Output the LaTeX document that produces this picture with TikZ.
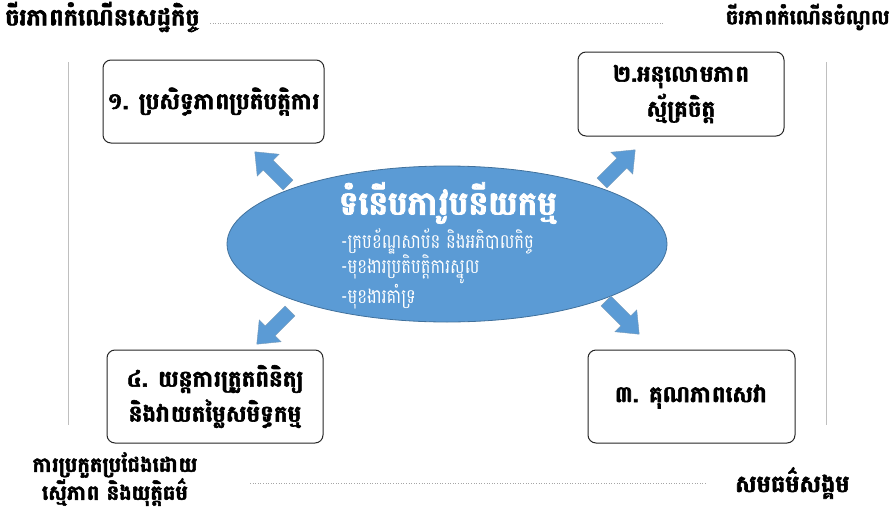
\documentclass[tikz,border=0pt]{standalone}
\usepackage{fontspec}
\usetikzlibrary{shapes.geometric}
\newfontfamily\kh[Script=Khmer,FakeStretch=0.82]{Battambang}
\newfontfamily\khb[Script=Khmer,FakeBold=2.5]{Battambang Bold}
\definecolor{blu}{HTML}{5B9BD5}
\definecolor{bluedge}{HTML}{41719C}
\tikzset{
  x=1pt,y=-1pt,
  boxstyle/.style={draw=black!85,line width=1pt,rounded corners=8pt,fill=white},
  lbl/.style={font=\khb\fontsize{23}{35}\selectfont,align=center,inner sep=0pt},
  outerlbl/.style={lbl,font=\khb\fontsize{24}{30}\selectfont},
  blkarrow/.style={fill=blu,draw=bluedge!70,line width=0.4pt},
  guide/.style={draw=black!35,line width=0.6pt,dotted},
  vline/.style={draw=black!25,line width=0.6pt}
}
\newcommand{\blockarrow}[3]{% tail name, angle, name
  \begin{scope}[shift={(#1)},rotate=#2]
    \draw[blkarrow] (0pt,-7pt) -- (28pt,-7pt) -- (28pt,-15.5pt) -- (47pt,0pt)
      -- (28pt,15.5pt) -- (28pt,7pt) -- (0pt,7pt) -- cycle;
    \coordinate (#3) at (47pt,0pt);
  \end{scope}}
\begin{document}
\begin{tikzpicture}
\useasboundingbox (0,0) rectangle (895,517);
% top and bottom labels
\node[outerlbl,anchor=west] (tl) at (5,17) {ចីរភាពកំណើនសេដ្ឋកិច្ច};
\node[outerlbl,font=\khb\fontsize{21}{30}\selectfont,anchor=east] (tr) at (890,17) {ចីរភាពកំណើនចំណូល};
\coordinate (tla) at (210,23);
\coordinate (tra) at (663,23);
\draw[guide] (tla) -- (tra);
\node[outerlbl,font=\khb\fontsize{21}{28}\selectfont] (bl) at (115,479) {ការប្រកួតប្រជែងដោយ\\ស្មើភាព និងយុត្តិធម៌};
\node[outerlbl,anchor=west] (br) at (735,483) {សមធម៌សង្គម};
\coordinate (bla) at (250,483);
\coordinate (bra) at (707,483);
\draw[guide] (bla) -- (bra);
% vertical lines
\coordinate (l1) at (68,62); \coordinate (l2) at (68,425);
\coordinate (r1) at (826,62); \coordinate (r2) at (826,425);
\draw[vline] (l1) -- (l2);
\draw[vline] (r1) -- (r2);
% boxes
\node[boxstyle,lbl,draw,minimum width=221pt,minimum height=83pt] (b1) at (213.5,101.5) {១. ប្រសិទ្ធភាពប្រតិបត្តិការ};
\node[boxstyle,lbl,draw,minimum width=206pt,minimum height=84pt] (b2) at (681,94) {២.អនុលោមភាព\\ស្ម័គ្រចិត្ត};
\node[boxstyle,lbl,draw,minimum width=216pt,minimum height=93pt] (b4) at (215,396.5) {៤. យន្តការត្រួតពិនិត្យ\\និងវាយតម្លៃសមិទ្ធកម្ម};
\node[boxstyle,lbl,draw,minimum width=207pt,minimum height=93pt] (b3) at (691.5,396.5) {៣. គុណភាពសេវា};
% ellipse
\node[ellipse,fill=blu,draw=bluedge,line width=0.8pt,minimum width=440pt,minimum height=156pt] (el) at (447,244) {};
\node[font=\khb\fontsize{33}{35}\selectfont,text=white,inner sep=0pt] (title) at (448,203) {ទំនើបភាវូបនីយកម្ម};
\node[font=\kh\fontsize{20}{24}\selectfont,text=white,align=left,anchor=north west,inner sep=0pt] (body) at (341,228)
  {-ក្របខ័ណ្ឌសាប័ន និងអភិបាលកិច្ច\\-មុខងារប្រតិបត្តិការស្នូល\\-មុខងារគាំទ្រ};
% arrows (tail points; y axis points down)
\coordinate (t1) at (288,185);
\coordinate (t2) at (602,183);
\coordinate (t4) at (290,311);
\coordinate (t3) at (606,301);
\blockarrow{t1}{135}{h1}
\blockarrow{t2}{45}{h2}
\blockarrow{t4}{-135}{h4}
\blockarrow{t3}{-45}{h3}
\end{tikzpicture}
\end{document}
